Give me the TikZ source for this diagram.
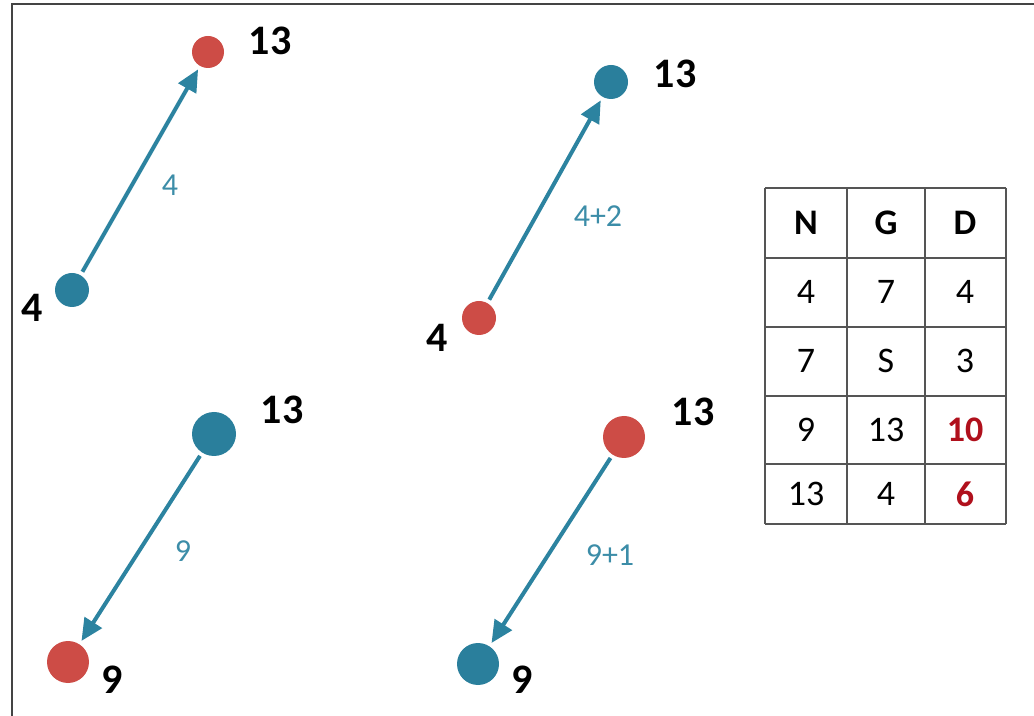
\documentclass[tikz,border=0pt]{standalone}
\usepackage{fontspec}
\setmainfont{Carlito}
\usetikzlibrary{arrows.meta,positioning}
\definecolor{clDotBlue}{HTML}{2A7F9C}
\definecolor{clDotRed}{HTML}{CD4C46}
\definecolor{clArrow}{HTML}{2C83A0}
\definecolor{clStep}{HTML}{3C8DA8}
\definecolor{clGrid}{HTML}{555555}
\definecolor{clFrame}{HTML}{444444}
\definecolor{clHot}{HTML}{B0101C}
\tikzset{
  dot/.style={circle, inner sep=0pt, outer sep=2pt},
  bluedot/.style={dot, fill=clDotBlue},
  reddot/.style={dot, fill=clDotRed},
  flow/.style={-{Triangle[length=11pt,width=10pt]}, line width=2pt, draw=clArrow},
  vallabel/.style={font=\fontsize{21}{24}\selectfont\bfseries},
  steplabel/.style={font=\fontsize{16}{18}\selectfont, text=clStep},
  cell/.style={font=\fontsize{18}{20}\selectfont},
  gridline/.style={line width=1.3pt, draw=clGrid},
}
\begin{document}
\begin{tikzpicture}[x=0.5pt, y=-0.5pt]
  \useasboundingbox (0,0) rectangle (1034,716);
  \draw[line width=1.2pt, draw=clFrame] (12,716) -- (12,4) -- (1034,4);

  % top left: 4 -> 13
  \node[bluedot, minimum size=17pt] (tlfrom) at (72,290) {};
  \node[reddot, minimum size=16pt] (tlto) at (208,52) {};
  \node[vallabel] (tlfromlbl) at (32,308) {4};
  \node[vallabel] (tltolbl) at (270,41) {13};
  \node[steplabel] (tlstep) at (170,185) {4};
  \draw[flow] (tlfrom) -- (tlto);

  % top right: 4 -> 13
  \node[reddot, minimum size=17pt] (trfrom) at (479,318) {};
  \node[bluedot, minimum size=17pt] (trto) at (611,82) {};
  \node[vallabel] (trfromlbl) at (437,338) {4};
  \node[vallabel] (trtolbl) at (675,74) {13};
  \node[steplabel] (trstep) at (598,216) {4+2};
  \draw[flow] (trfrom) -- (trto);

  % bottom left: 13 -> 9
  \node[bluedot, minimum size=22pt] (blfrom) at (214,434) {};
  \node[reddot, minimum size=21pt] (blto) at (68,662) {};
  \node[vallabel] (blfromlbl) at (282,410) {13};
  \node[vallabel] (bltolbl) at (112,680) {9};
  \node[steplabel] (blstep) at (183,551) {9};
  \draw[flow] (blfrom) -- (blto);

  % bottom right: 13 -> 9
  \node[reddot, minimum size=21pt] (brfrom) at (624,437) {};
  \node[bluedot, minimum size=21pt] (brto) at (478,664) {};
  \node[vallabel] (brfromlbl) at (693,412) {13};
  \node[vallabel] (brtolbl) at (522,680) {9};
  \node[steplabel] (brstep) at (610,555) {9+1};
  \draw[flow] (brfrom) -- (brto);

  % table
  \foreach \y in {188,258,327,396,464,524}
    \draw[gridline] (765,\y) -- (1006,\y);
  \foreach \x in {765,847,925,1006}
    \draw[gridline] (\x,188) -- (\x,524);
  \node[cell, font=\fontsize{18}{20}\selectfont\bfseries] (hn) at (806,223) {N};
  \node[cell, font=\fontsize{18}{20}\selectfont\bfseries] (hg) at (886,223) {G};
  \node[cell, font=\fontsize{18}{20}\selectfont\bfseries] (hd) at (965,223) {D};
  \node[cell] (n1) at (806,292) {4};  \node[cell] (g1) at (886,292) {7};  \node[cell] (d1) at (965,292) {4};
  \node[cell] (n2) at (806,361) {7};  \node[cell] (g2) at (886,361) {S};  \node[cell] (d2) at (965,361) {3};
  \node[cell] (n3) at (806,430) {9};  \node[cell] (g3) at (886,430) {13};
  \node[cell, font=\fontsize{18}{20}\selectfont\bfseries, text=clHot] (d3) at (965,430) {10};
  \node[cell] (n4) at (806,494) {13}; \node[cell] (g4) at (886,494) {4};
  \node[cell, font=\fontsize{18}{20}\selectfont\bfseries, text=clHot] (d4) at (965,494) {6};
\end{tikzpicture}
\end{document}
